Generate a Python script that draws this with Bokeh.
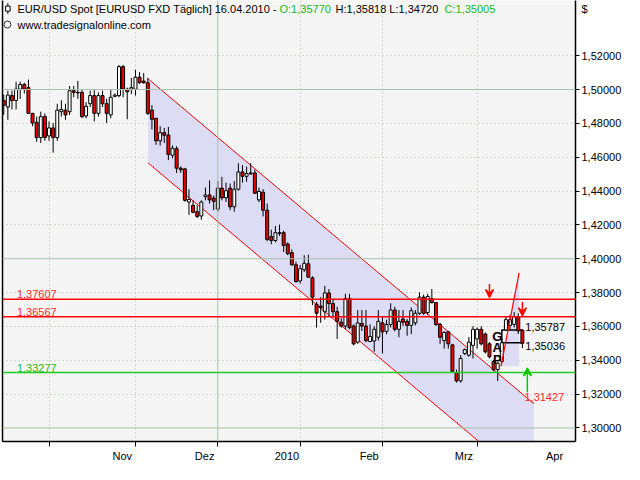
from bokeh.plotting import figure
from bokeh.models import (LinearAxis, FixedTicker, CustomJSTickFormatter, Span, Label,
                          Arrow, VeeHead, ColumnDataSource)
from bokeh.embed import file_html
from bokeh.resources import INLINE
from bokeh.core.properties import value

# ---------------- data (EUR/USD daily, 16.10.2009 - 16.04.2010) ----------------
opens = [1.4935, 1.4897, 1.4964, 1.4935, 1.5002, 1.5030, 1.5011, 1.4859, 1.4806, 1.4716,
         1.4840, 1.4726, 1.4773, 1.4716, 1.4869, 1.4878, 1.4869, 1.4993, 1.4983, 1.4983,
         1.4844, 1.4916, 1.4964, 1.4859, 1.4964, 1.4916, 1.4850, 1.4960, 1.4964, 1.5135,
         1.5002, 1.5002, 1.5002, 1.5073, 1.5050, 1.5040, 1.4878, 1.4830, 1.4697, 1.4745,
         1.4731, 1.4612, 1.4650, 1.4535, 1.4531, 1.4335, 1.4316, 1.4278, 1.4253, 1.4367,
         1.4377, 1.4358, 1.4293, 1.4417, 1.4360, 1.4417, 1.4307, 1.4411, 1.4513, 1.4487,
         1.4507, 1.4507, 1.4348, 1.4393, 1.4287, 1.4131, 1.4108, 1.4154, 1.4154, 1.4087,
         1.4036, 1.3964, 1.3869, 1.3935, 1.3970, 1.3887, 1.3731, 1.3720, 1.3687, 1.3798,
         1.3735, 1.3687, 1.3625, 1.3602, 1.3764, 1.3602, 1.3507, 1.3617, 1.3602, 1.3511,
         1.3514, 1.3536, 1.3621, 1.3571, 1.3612, 1.3697, 1.3583, 1.3644, 1.3630, 1.3606,
         1.3621, 1.3678, 1.3773, 1.3682, 1.3764, 1.3741, 1.3612, 1.3516, 1.3568, 1.3491,
         1.3326, 1.3278, 1.3440, 1.3430, 1.3488, 1.3526, 1.3583, 1.3555, 1.3497, 1.3393,
         1.3345, 1.3393, 1.3579, 1.3606, 1.3612, 1.3658, 1.35770]
highs = [1.4970, 1.4993, 1.4993, 1.5046, 1.5046, 1.5040, 1.5059, 1.4862, 1.4840, 1.4869,
         1.4859, 1.4811, 1.4802, 1.4916, 1.4937, 1.4916, 1.5021, 1.5021, 1.5051, 1.5002,
         1.4926, 1.4993, 1.4996, 1.4983, 1.4993, 1.4945, 1.4996, 1.4977, 1.5145, 1.5145,
         1.5011, 1.5069, 1.5116, 1.5103, 1.5097, 1.5069, 1.4907, 1.4830, 1.4783, 1.4773,
         1.4779, 1.4669, 1.4665, 1.4545, 1.4537, 1.4411, 1.4345, 1.4316, 1.4345, 1.4421,
         1.4463, 1.4373, 1.4459, 1.4484, 1.4450, 1.4444, 1.4459, 1.4564, 1.4554, 1.4545,
         1.4564, 1.4526, 1.4421, 1.4411, 1.4326, 1.4172, 1.4194, 1.4202, 1.4166, 1.4097,
         1.4055, 1.3983, 1.3964, 1.4021, 1.4024, 1.3897, 1.3745, 1.3773, 1.3840, 1.3821,
         1.3764, 1.3716, 1.3649, 1.3793, 1.3793, 1.3612, 1.3697, 1.3697, 1.3697, 1.3612,
         1.3602, 1.3697, 1.3658, 1.3640, 1.3737, 1.3716, 1.3697, 1.3697, 1.3644, 1.3712,
         1.3697, 1.3802, 1.3788, 1.3793, 1.3821, 1.3741, 1.3621, 1.3573, 1.3573, 1.3497,
         1.3345, 1.3430, 1.3470, 1.3537, 1.3602, 1.3594, 1.3602, 1.3564, 1.3507, 1.3402,
         1.3393, 1.3526, 1.3658, 1.3668, 1.3685, 1.3677, 1.35818]
lows = [1.4850, 1.4821, 1.4882, 1.4882, 1.4945, 1.4977, 1.4855, 1.4783, 1.4691, 1.4684,
        1.4697, 1.4697, 1.4627, 1.4697, 1.4840, 1.4821, 1.4850, 1.4954, 1.4945, 1.4830,
        1.4830, 1.4897, 1.4811, 1.4840, 1.4897, 1.4802, 1.4830, 1.4954, 1.4954, 1.4954,
        1.4824, 1.4973, 1.4964, 1.5034, 1.5034, 1.4850, 1.4764, 1.4673, 1.4669, 1.4684,
        1.4583, 1.4593, 1.4507, 1.4507, 1.4337, 1.4259, 1.4269, 1.4240, 1.4230, 1.4345,
        1.4326, 1.4287, 1.4278, 1.4345, 1.4335, 1.4287, 1.4278, 1.4402, 1.4450, 1.4455,
        1.4497, 1.4383, 1.4335, 1.4250, 1.4103, 1.4086, 1.4097, 1.4135, 1.4040, 1.4021,
        1.3960, 1.3859, 1.3853, 1.3922, 1.3887, 1.3726, 1.3593, 1.3621, 1.3640, 1.3658,
        1.3658, 1.3526, 1.3593, 1.3583, 1.3583, 1.3488, 1.3497, 1.3573, 1.3507, 1.3507,
        1.3450, 1.3516, 1.3440, 1.3554, 1.3594, 1.3571, 1.3536, 1.3602, 1.3545, 1.3554,
        1.3606, 1.3668, 1.3668, 1.3668, 1.3735, 1.3602, 1.3497, 1.3469, 1.3469, 1.3326,
        1.3268, 1.3268, 1.3430, 1.3421, 1.3411, 1.3469, 1.3488, 1.3440, 1.3411, 1.3335,
        1.3278, 1.3383, 1.3573, 1.3583, 1.3594, 1.3555, 1.34720]
closes = [1.4907, 1.4967, 1.4935, 1.5002, 1.5030, 1.5002, 1.4859, 1.4802, 1.4716, 1.4840,
          1.4716, 1.4773, 1.4716, 1.4878, 1.4882, 1.4850, 1.4993, 1.4983, 1.4980, 1.4840,
          1.4901, 1.4964, 1.4859, 1.4964, 1.4916, 1.4859, 1.4954, 1.4967, 1.5135, 1.5002,
          1.4987, 1.5011, 1.5073, 1.5040, 1.5040, 1.4859, 1.4824, 1.4697, 1.4745, 1.4730,
          1.4616, 1.4653, 1.4535, 1.4526, 1.4345, 1.4350, 1.4274, 1.4250, 1.4335, 1.4377,
          1.4348, 1.4339, 1.4417, 1.4360, 1.4402, 1.4307, 1.4411, 1.4513, 1.4487, 1.4503,
          1.4501, 1.4387, 1.4398, 1.4287, 1.4114, 1.4108, 1.4154, 1.4149, 1.4078, 1.4030,
          1.3964, 1.3865, 1.3941, 1.3973, 1.3891, 1.3773, 1.3678, 1.3711, 1.3798, 1.3735,
          1.3687, 1.3630, 1.3602, 1.3764, 1.3593, 1.3497, 1.3621, 1.3602, 1.3516, 1.3541,
          1.3583, 1.3630, 1.3568, 1.3612, 1.3697, 1.3583, 1.3630, 1.3625, 1.3606, 1.3693,
          1.3678, 1.3773, 1.3678, 1.3777, 1.3741, 1.3612, 1.3536, 1.3564, 1.3497, 1.3335,
          1.3278, 1.3411, 1.3463, 1.3507, 1.3583, 1.3583, 1.3497, 1.3450, 1.3421, 1.3345,
          1.3383, 1.35036, 1.3640, 1.3640, 1.3658, 1.3573, 1.35005]

# first trading bar of each month (bar index) and axis labels
month_starts = [11, 32, 52, 72, 92, 115, 137]
month_names = ["Nov", "Dez", "2010", "Feb", "Mrz", "Apr"]
year_start = 52
y_ticks = [1.30, 1.32, 1.34, 1.36, 1.38, 1.40, 1.42, 1.44, 1.46, 1.48, 1.50, 1.52]
y_major = [1.30, 1.40, 1.50]
currency = "$"
currency_y = 1.5478

# horizontal levels
red_levels = [1.37607, 1.36567]
red_level_labels = ["1,37607", "1,36567"]
green_level = 1.33277
green_level_label = "1,33277"

# regression channel (bar index, upper line values, width)
chan_x = [35.07, 128.8]
chan_upper = [1.5063, 1.3143]
chan_width = 0.0497
chan_end_label = "1,31427"

# gap
gap_x = [121.0, 126.0]
gap_lo, gap_hi = 1.35036, 1.35787
gap_labels = ["1,35787", "1,35036"]
trend_x = [120.8, 125.2]
trend_y = [1.3364, 1.3917]

# arrows
arrow_x = [118.0, 126.0, 127.2]
arrow_y0 = [1.3851, 1.3745, 1.3211]
arrow_y1 = [1.3771, 1.3663, 1.3354]
arrow_colors = ["#ff0000", "#ff0000", "#00cc00"]

title_parts = ["EUR/USD Spot [EURUSD FXD  Täglich] 16.04.2010 -", "O:1,35770",
               "H:1,35818 L:1,34720", "C:1,35005"]
title_colors = ["black", "#22b822", "black", "#22b822"]
title_offsets = [15, 277, 333, 442]

FONT = "Liberation Sans"
X0, X1 = -0.3, 138.9
Y0, Y1 = 1.2920, 1.5526
GRID = "#a9c0a9"
LAV = "#dcdcf4"

p = figure(width=624, height=464, x_range=(X0, X1), y_range=(Y0, Y1),
           output_backend="svg", toolbar_location=None, y_axis_location="right",
           min_border_left=2, min_border_right=0, min_border_top=0, min_border_bottom=0)
p.background_fill_color = "#f5f5f5"
p.border_fill_color = "white"
p.outline_line_color = None

# ---- axes ----
yax = p.yaxis[0]
yax.ticker = FixedTicker(ticks=y_ticks + [currency_y], minor_ticks=y_ticks)
yax.formatter = CustomJSTickFormatter(args=dict(cur=currency, cy=currency_y), code="""
if (Math.abs(tick - cy) < 1e-6) return cur;
return tick.toFixed(5).replace('.', ',');
""")
yax.major_tick_out = 0
yax.major_tick_in = 0
yax.minor_tick_out = 4
yax.minor_tick_in = 0
yax.minor_tick_line_color = "black"
yax.axis_line_color = "black"
yax.axis_line_width = 1.5
yax.major_label_text_font = FONT
yax.major_label_text_font_size = "11px"
yax.major_label_text_color = "black"
yax.major_label_standoff = 2

label_pos = [m - 3.2 for m in month_starts[1:]]
xax = p.xaxis[0]
xax.ticker = FixedTicker(ticks=label_pos, minor_ticks=month_starts[:-1])
xax.formatter = CustomJSTickFormatter(args=dict(pos=label_pos, names=month_names), code="""
let b = 0;
for (let i = 0; i < pos.length; i++) { if (Math.abs(pos[i] - tick) < Math.abs(pos[b] - tick)) b = i; }
return names[b];
""")
xax.major_tick_out = 0
xax.major_tick_in = 0
xax.minor_tick_out = 5
xax.minor_tick_in = 0
xax.minor_tick_line_color = "black"
xax.axis_line_color = "black"
xax.axis_line_width = 1.5
xax.major_label_text_font = FONT
xax.major_label_text_font_size = "11px"
xax.major_label_text_color = "black"
xax.major_label_standoff = 3

left = LinearAxis(ticker=FixedTicker(ticks=[]), major_tick_out=0, major_tick_in=0,
                  minor_tick_out=0, minor_tick_in=0, major_label_text_font_size="0px",
                  major_label_standoff=0, axis_line_color="black", axis_line_width=1.5)
p.add_layout(left, "left")

# ---- grid ----
p.xgrid.ticker = FixedTicker(ticks=[m for m in month_starts[:-1] if m != year_start])
p.xgrid.grid_line_color = GRID
p.xgrid.grid_line_dash = "1 3"
p.ygrid.ticker = FixedTicker(ticks=[t for t in y_ticks if t not in y_major])
p.ygrid.grid_line_color = GRID
p.ygrid.grid_line_dash = "1 3"
p.add_layout(Span(location=year_start, dimension="height", line_color=GRID, line_width=1))
for yv in y_major:
    p.add_layout(Span(location=yv, dimension="width", line_color=GRID, line_width=1))

# ---- regression channel ----
cx = [chan_x[0], chan_x[1], chan_x[1], chan_x[0]]
cy = [chan_upper[0], chan_upper[1], chan_upper[1] - chan_width, chan_upper[0] - chan_width]
p.patch(cx, cy, fill_color=LAV, line_color=None)
p.line(chan_x, chan_upper, line_color="#ff0000", line_width=1)
p.line(chan_x, [v - chan_width for v in chan_upper], line_color="#ff0000", line_width=1)

# steep trend line with fill
p.patch([trend_x[0], trend_x[1], trend_x[1]], [trend_y[0], trend_y[1], trend_y[0]],
        fill_color=LAV, line_color=None)

# ---- level lines ----
for lv in red_levels:
    p.add_layout(Span(location=lv, dimension="width", line_color="#ff0000", line_width=1.5))
p.add_layout(Span(location=green_level, dimension="width", line_color="#22cc22", line_width=1.5))
p.text(x=[3.2, 3.2], y=red_levels, text=red_level_labels, text_color="#ff2a2a",
       text_font=value(FONT), text_font_size="11px", text_baseline="bottom", y_offset=-1)
p.text(x=[3.2], y=[green_level], text=[green_level_label], text_color="#22b822",
       text_font=value(FONT), text_font_size="11px", text_baseline="bottom", y_offset=-1)

# gap box
p.quad(left=[gap_x[0]], right=[gap_x[1]], bottom=[gap_lo], top=[gap_hi],
       fill_color=None, line_color="black", line_width=1.5)

# ---- candles ----
n = len(opens)
src = ColumnDataSource(dict(
    x=list(range(n)), h=highs, l=lows,
    top=[max(o, c) for o, c in zip(opens, closes)],
    bot=[min(o, c) for o, c in zip(opens, closes)],
    col=["#ee0000" if c < o else "white" for o, c in zip(opens, closes)]))
p.segment(x0="x", y0="h", x1="x", y1="l", source=src, line_color="black", line_width=1)
p.vbar(x="x", top="top", bottom="bot", width=0.72, fill_color="col", line_color="black",
       line_width=1, source=src)

p.line(trend_x, trend_y, line_color="#ff0000", line_width=1.2)

# gap texts
for i, ch in enumerate("GAP"):
    p.add_layout(Label(x=119.9, y=gap_hi - 0.0036 - i * 0.0070, text=ch, text_font=FONT,
                       text_font_size="13px", text_font_style="bold", text_color="black",
                       text_align="center", text_baseline="middle"))
p.text(x=[126.7], y=[gap_hi], text=[gap_labels[0]], text_color="black", text_font=value(FONT),
       text_font_size="11px", text_baseline="bottom", y_offset=1)
p.text(x=[126.7], y=[gap_lo], text=[gap_labels[1]], text_color="black", text_font=value(FONT),
       text_font_size="11px", text_baseline="top", y_offset=-1)
p.text(x=[126.5], y=[chan_upper[1]], text=[chan_end_label], text_color="#ff2a2a",
       text_font=value(FONT), text_font_size="11px", text_baseline="bottom", y_offset=-3)

# arrows
for ax_, a0, a1, ac in zip(arrow_x, arrow_y0, arrow_y1, arrow_colors):
    p.add_layout(Arrow(x_start=ax_, y_start=a0, x_end=ax_, y_end=a1, line_color=ac, line_width=1.5,
                       end=VeeHead(size=8, line_color=ac, fill_color=ac, line_width=1.5)))

# ---- title / watermark ----
for t, c, off in zip(title_parts, title_colors, title_offsets):
    p.add_layout(Label(x=X0, y=Y1, x_offset=off, y_offset=-2, text=t, text_color=c,
                       text_font=FONT, text_font_size="11px", text_baseline="top"))
p.add_layout(Label(x=X0, y=Y1, x_offset=15, y_offset=-18, text="www.tradesignalonline.com",
                   text_color="black", text_font=FONT, text_font_size="11px",
                   text_baseline="top"))
# small icons
p.segment(x0=[1.0], y0=[Y1 - 0.0016], x1=[1.0], y1=[Y1 - 0.0080], line_color="black")
p.rect(x=[1.0], y=[Y1 - 0.0048], width=1.1, height=0.0030, fill_color="white", line_color="black")
p.scatter(x=[0.9], y=[Y1 - 0.0142], size=7, marker="circle", fill_color=None, line_color="#333333")

open("out.html", "w").write(file_html(p, INLINE))
